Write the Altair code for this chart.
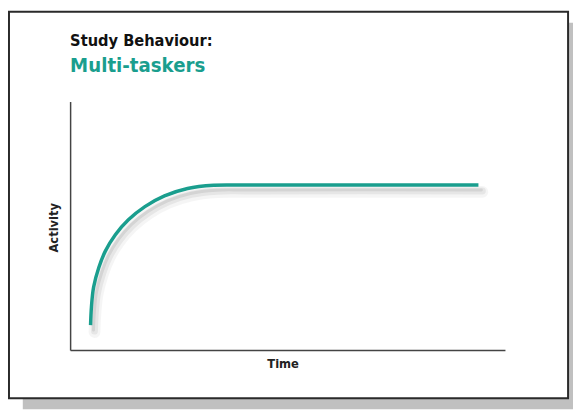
import altair as alt
import pandas as pd

# Curve data (arbitrary units, 0-100 on both axes)
time = [4.7, 4.9, 5.4, 6.6, 8.1, 10.4, 13.4, 17.2, 21.7, 27.0, 33.0, 40.0, 93.9]
activity = [10.0, 17.3, 25.3, 33.2, 39.8, 46.4, 52.4, 57.7, 62.0, 65.0, 66.3, 66.4, 66.4]

title_main = "Study Behaviour:"
title_sub = "Multi-taskers"
x_title = "Time"
y_title = "Activity"

TEAL = "#1a9e8e"
FONT = "Liberation Sans Narrow, DejaVu Sans Condensed, sans-serif"

df = pd.DataFrame({"Time": time, "Activity": activity})
one = pd.DataFrame({"a": [0]})

xs = alt.Scale(domain=[0, 100], nice=False)
ys = alt.Scale(domain=[0, 100], nice=False)

shadow = alt.Chart(one).mark_rect(color="#c0c0c0").encode(
    x=alt.value(-48), x2=alt.value(510), y=alt.value(-80), y2=alt.value(312)
)
frame = alt.Chart(one).mark_rect(fill="white", stroke="#2a2a2a", strokeWidth=2).encode(
    x=alt.value(-62), x2=alt.value(505), y=alt.value(-91), y2=alt.value(301)
)

base = alt.Chart(df).encode(
    x=alt.X("Time:Q", scale=xs, axis=alt.Axis(title=None, labels=False, ticks=False, grid=False,
                                              domainColor="#444", domainWidth=1.5, zindex=1)),
    y=alt.Y("Activity:Q", scale=ys, axis=alt.Axis(title=None, labels=False, ticks=False, grid=False,
                                                  domainColor="#444", domainWidth=1.5, zindex=1)),
)

INTERP = "catmull-rom"
shadows = [
    base.mark_line(interpolate=INTERP, color="#000", opacity=0.04, strokeWidth=12,
                   strokeCap="round", xOffset=4, yOffset=7),
    base.mark_line(interpolate=INTERP, color="#000", opacity=0.06, strokeWidth=7,
                   strokeCap="round", xOffset=4, yOffset=6),
    base.mark_line(interpolate=INTERP, color="#000", opacity=0.08, strokeWidth=3,
                   strokeCap="round", xOffset=3, yOffset=5),
]
line = base.mark_line(interpolate=INTERP, color=TEAL, strokeWidth=3.5, strokeCap="butt")

t1 = alt.Chart(one).mark_text(text=title_main, font=FONT, fontSize=16.5, fontWeight="bold",
                              color="#111", align="left", baseline="alphabetic").encode(
    x=alt.value(0), y=alt.value(-56))
t2 = alt.Chart(one).mark_text(text=title_sub, font=FONT, fontSize=20.5, fontWeight="bold",
                              color=TEAL, align="left", baseline="alphabetic").encode(
    x=alt.value(0), y=alt.value(-30))
tx = alt.Chart(one).mark_text(text=x_title, font=FONT, fontSize=13, fontWeight="bold",
                              color="#222", align="center", baseline="alphabetic").encode(
    x=alt.value(216), y=alt.value(270))
ty = alt.Chart(one).mark_text(text=y_title, font=FONT, fontSize=13, fontWeight="bold",
                              color="#222", align="center", baseline="alphabetic", angle=270).encode(
    x=alt.value(-12), y=alt.value(128))

chart = alt.layer(shadow, frame, *shadows, line, t1, t2, tx, ty).properties(
    width=441, height=252,
    autosize=alt.AutoSizeParams(type="none"),
    padding={"left": 63, "top": 92, "right": 69, "bottom": 60},
).configure_view(stroke=None)

chart.save("out.html", embed_options={"renderer": "svg", "actions": False})
